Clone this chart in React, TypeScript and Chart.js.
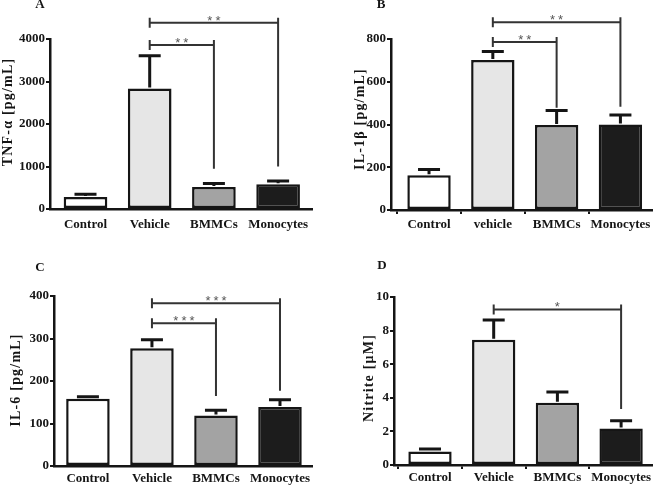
import React, { useEffect, useRef } from "react";
import { Chart, registerables } from "chart.js";

Chart.register(...registerables);

// ---------- data ----------
const groupsA = ["Control", "Vehicle", "BMMCs", "Monocytes"];
const groupsB = ["Control", "vehicle", "BMMCs", "Monocytes"];
const groupsC = ["Control", "Vehicle", "BMMCs", "Monocytes"];
const groupsD = ["Control", "Vehicle", "BMMCs", "Monocytes"];

const tnfMean = [285, 2835, 520, 585];
const tnfSem = [62, 770, 80, 75];
const il1bMean = [162, 702, 398, 400];
const il1bSem = [28, 40, 68, 45];
const il6Mean = [158, 277, 119, 139];
const il6Sem = [5, 20, 12, 17];
const nitriteMean = [0.8, 7.45, 3.7, 2.18];
const nitriteSem = [0.15, 1.18, 0.65, 0.45];

const tnfTicks = { max: 4000, step: 1000 };
const il1bTicks = { max: 800, step: 200 };
const il6Ticks = { max: 400, step: 100 };
const nitriteTicks = { max: 10, step: 2 };

// significance brackets: from/to category index, bracket level, lower end, label
const tnfSig = [
  { from: 1, to: 3, level: 4380, end: 1000, label: "**" },
  { from: 1, to: 2, level: 3860, end: 950, label: "**" },
];
const il1bSig = [
  { from: 1, to: 3, level: 878, end: 483, label: "**" },
  { from: 1, to: 2, level: 786, end: 478, label: "**" },
];
const il6Sig = [
  { from: 1, to: 3, level: 383, end: 177, label: "***" },
  { from: 1, to: 2, level: 336, end: 165, label: "***" },
];
const nitriteSig = [{ from: 1, to: 3, level: 9.26, end: 3.34, label: "*" }];

// ---------- styles ----------
const SERIF = "'Liberation Serif', 'Times New Roman', serif";
const barColors = ["#ffffff", "#e6e6e6", "#a3a3a3", "#1c1c1c"];
const INK = "#151515";

type Panel = {
  letter: string;
  title: string;
  labels: string[];
  mean: number[];
  sem: number[];
  ticks: { max: number; step: number };
  sig: { from: number; to: number; level: number; end: number; label: string }[];
  left: number;
  top: number;
  padTop: number;
  padRight: number;
  yWidth: number;
  xHeight: number;
  xMin: number;
  xMax: number;
  xTicks: boolean;
  xPad: number;
  titlePos: [number, number];
  letterPos: [number, number];
};

const panels: Panel[] = [
  {
    letter: "A", title: "TNF-α [pg/mL]", labels: groupsA, mean: tnfMean, sem: tnfSem,
    ticks: tnfTicks, sig: tnfSig, left: 0, top: 0, padTop: 39, padRight: 15,
    yWidth: 50, xHeight: 35, xMin: -0.553, xMax: 3.528, xTicks: false, xPad: 8,
    titlePos: [8, 112], letterPos: [40, 8],
  },
  {
    letter: "B", title: "IL-1β [pg/mL]", labels: groupsB, mean: il1bMean, sem: il1bSem,
    ticks: il1bTicks, sig: il1bSig, left: 327, top: 0, padTop: 39, padRight: 2,
    yWidth: 64, xHeight: 34, xMin: -0.596, xMax: 3.495, xTicks: true, xPad: 3,
    titlePos: [33, 119], letterPos: [54, 8],
  },
  {
    letter: "C", title: "IL-6 [pg/mL]", labels: groupsC, mean: il6Mean, sem: il6Sem,
    ticks: il6Ticks, sig: il6Sig, left: 0, top: 244, padTop: 52, padRight: 15,
    yWidth: 54, xHeight: 22, xMin: -0.53, xMax: 3.5, xTicks: false, xPad: 5,
    titlePos: [16, 136], letterPos: [40, 27],
  },
  {
    letter: "D", title: "Nitrite [μM]", labels: groupsD, mean: nitriteMean, sem: nitriteSem,
    ticks: nitriteTicks, sig: nitriteSig, left: 327, top: 244, padTop: 53, padRight: 2,
    yWidth: 67, xHeight: 23, xMin: -0.565, xMax: 3.485, xTicks: true, xPad: 1,
    titlePos: [42, 134], letterPos: [55, 25],
  },
];

function panelPlugin(p: Panel) {
  return {
    id: "panelDecor" + p.letter,
    afterDatasetsDraw(chart: any) {
      const ctx = chart.ctx as CanvasRenderingContext2D;
      const xs = chart.scales.x;
      const ys = chart.scales.y;
      const meta = chart.getDatasetMeta(0);
      ctx.save();
      // error bars (upper SEM)
      ctx.strokeStyle = INK;
      ctx.lineWidth = 3;
      ctx.lineCap = "butt";
      p.mean.forEach((m, i) => {
        const el = meta.data[i];
        const x = el.x;
        const y0 = ys.getPixelForValue(m);
        const y1 = ys.getPixelForValue(m + p.sem[i]);
        ctx.beginPath();
        ctx.moveTo(x, y0 - 1);
        ctx.lineTo(x, y1);
        ctx.moveTo(x - 11, y1);
        ctx.lineTo(x + 11, y1);
        ctx.stroke();
      });
      // brackets
      ctx.strokeStyle = "#333";
      ctx.lineWidth = 2;
      p.sig.forEach((s) => {
        const x1 = xs.getPixelForValue(s.from);
        const x2 = xs.getPixelForValue(s.to);
        const y = ys.getPixelForValue(s.level);
        const ye = ys.getPixelForValue(s.end);
        ctx.beginPath();
        ctx.moveTo(x1, y);
        ctx.lineTo(x2, y);
        ctx.moveTo(x1, y - 5);
        ctx.lineTo(x1, y + 5);
        ctx.moveTo(x2, y - 5);
        ctx.lineTo(x2, ye);
        ctx.stroke();
        ctx.fillStyle = "#555";
        ctx.font = "13px 'Liberation Sans', Arial, sans-serif";
        (ctx as any).letterSpacing = "3px";
        ctx.textAlign = "center";
        ctx.textBaseline = "alphabetic";
        ctx.fillText(s.label, (x1 + x2) / 2 + 1.5, y + 2);
        (ctx as any).letterSpacing = "0px";
      });
      ctx.restore();
    },
    afterDraw(chart: any) {
      const ctx = chart.ctx as CanvasRenderingContext2D;
      ctx.save();
      // y axis title
      ctx.translate(p.titlePos[0], p.titlePos[1]);
      ctx.rotate(-Math.PI / 2);
      ctx.fillStyle = INK;
      ctx.font = `bold 14px ${SERIF}`;
      (ctx as any).letterSpacing = "1.2px";
      ctx.textAlign = "center";
      ctx.textBaseline = "middle";
      ctx.fillText(p.title, 0, 0);
      ctx.restore();
      ctx.save();
      ctx.fillStyle = INK;
      ctx.font = `bold 13px ${SERIF}`;
      ctx.textAlign = "center";
      ctx.textBaseline = "alphabetic";
      ctx.fillText(p.letter, p.letterPos[0], p.letterPos[1]);
      ctx.restore();
    },
  };
}

function PanelChart({ p }: { p: Panel }) {
  const ref = useRef<HTMLCanvasElement | null>(null);
  useEffect(() => {
    if (!ref.current) return;
    const font = { family: SERIF, size: 13, weight: "bold" as const };
    const chart = new Chart(ref.current, {
      type: "bar",
      data: {
        datasets: [
          {
            data: p.mean.map((v, i) => ({ x: i, y: v })),
            backgroundColor: barColors,
            borderColor: INK,
            borderWidth: 2.5,
            borderSkipped: false,
            barPercentage: 0.68,
            categoryPercentage: 1,
          },
        ],
      },
      options: {
        responsive: false,
        animation: false,
        devicePixelRatio: 1,
        layout: { padding: { top: p.padTop, right: p.padRight, left: 0, bottom: 0 } },
        plugins: { legend: { display: false }, tooltip: { enabled: false } },
        scales: {
          x: {
            type: "linear",
            min: p.xMin,
            max: p.xMax,
            offset: false,
            grid: {
              display: true,
              drawOnChartArea: false,
              drawTicks: p.xTicks,
              tickLength: 4,
              color: INK,
              lineWidth: 2,
            },
            border: { color: INK, width: 2.5 },
            ticks: {
              color: INK,
              font,
              padding: p.xPad,
              maxRotation: 0,
              autoSkip: false,
              callback: (v: any) => p.labels[Math.round(Number(v))] ?? "",
            },
            afterBuildTicks: (s: any) => {
              s.ticks = p.labels.map((_, i) => ({ value: i }));
            },
            afterFit: (s: any) => {
              s.height = p.xHeight;
            },
          },
          y: {
            min: 0,
            max: p.ticks.max,
            ticks: {
              stepSize: p.ticks.step,
              color: INK,
              font,
              padding: 1,
              callback: (v: any) => String(v),
            },
            grid: {
              drawOnChartArea: false,
              drawTicks: true,
              tickLength: 4,
              color: INK,
              lineWidth: 2,
            },
            border: { color: INK, width: 2.5 },
            afterFit: (s: any) => {
              s.width = p.yWidth;
            },
          },
        },
      },
      plugins: [panelPlugin(p)],
    });
    return () => chart.destroy();
  }, [p]);
  return (
    <canvas
      ref={ref}
      width={327}
      height={244}
      style={{ position: "absolute", left: p.left, top: p.top, width: 327, height: 244 }}
    />
  );
}

export default function App() {
  return (
    <div
      style={{
        position: "absolute",
        left: 0,
        top: 0,
        width: 654,
        height: 488,
        background: "#ffffff",
        overflow: "hidden",
      }}
    >
      {panels.map((p) => (
        <PanelChart key={p.letter} p={p} />
      ))}
    </div>
  );
}
